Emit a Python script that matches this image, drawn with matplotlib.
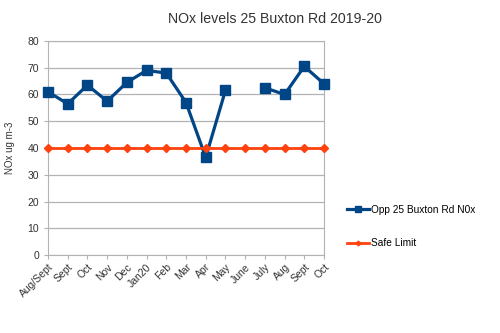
import numpy as np
import matplotlib as mpl
mpl.rcParams.update({'font.family': ['Liberation Sans', 'DejaVu Sans']})
import matplotlib.pyplot as plt

# Data
months = ['Aug/Sept', 'Sept', 'Oct', 'Nov', 'Dec', 'Jan20', 'Feb', 'Mar',
          'Apr', 'May', 'June', 'July', 'Aug', 'Sept', 'Oct']
nox = [61, 56.5, 63.5, 57.5, 64.5, 69, 68, 57, 36.5, 61.5,
       np.nan, 62.5, 60, 70.5, 64]
safe_limit = [40] * len(months)

x = np.arange(len(months))

fig = plt.figure(figsize=(5, 3.33), dpi=100)
ax = fig.add_axes([0.096, 0.234, 0.552, 0.643])

ax.plot(x, nox, color='#004586', lw=2.3, marker='s', ms=6.5,
        label='Opp 25 Buxton Rd N0x', zorder=3, clip_on=False)
ax.plot(x, safe_limit, color='#ff420e', lw=2.0, marker='D', ms=4,
        label='Safe Limit', zorder=4, clip_on=False)

ax.set_xlim(0, len(months) - 1)
ax.set_ylim(0, 80)
ax.set_yticks(range(0, 81, 10))
ax.set_xticks(x)
ax.set_xticklabels(months, rotation=45, ha='right', rotation_mode='anchor')
ax.tick_params(labelsize=7.5, color='#b3b3b3', length=3, labelcolor='#333333')
ax.tick_params(axis='x', pad=2)
ax.grid(axis='y', color='#b3b3b3', lw=0.9)
ax.set_axisbelow(True)
for s in ax.spines.values():
    s.set_color('#b3b3b3')
ax.set_ylabel('NOx ug m-3', fontsize=7, color='#333333', labelpad=9)

fig.suptitle('NOx levels 25 Buxton Rd 2019-20', x=0.55, y=0.965,
             fontsize=10.2, color='#333333')
fig.legend(loc='center left', bbox_to_anchor=(0.675, 0.32), frameon=False,
           fontsize=7.3, labelspacing=2.3, handlelength=2.2,
           handletextpad=0.2, markerscale=0.6)

fig.savefig('out.png', dpi=100)
